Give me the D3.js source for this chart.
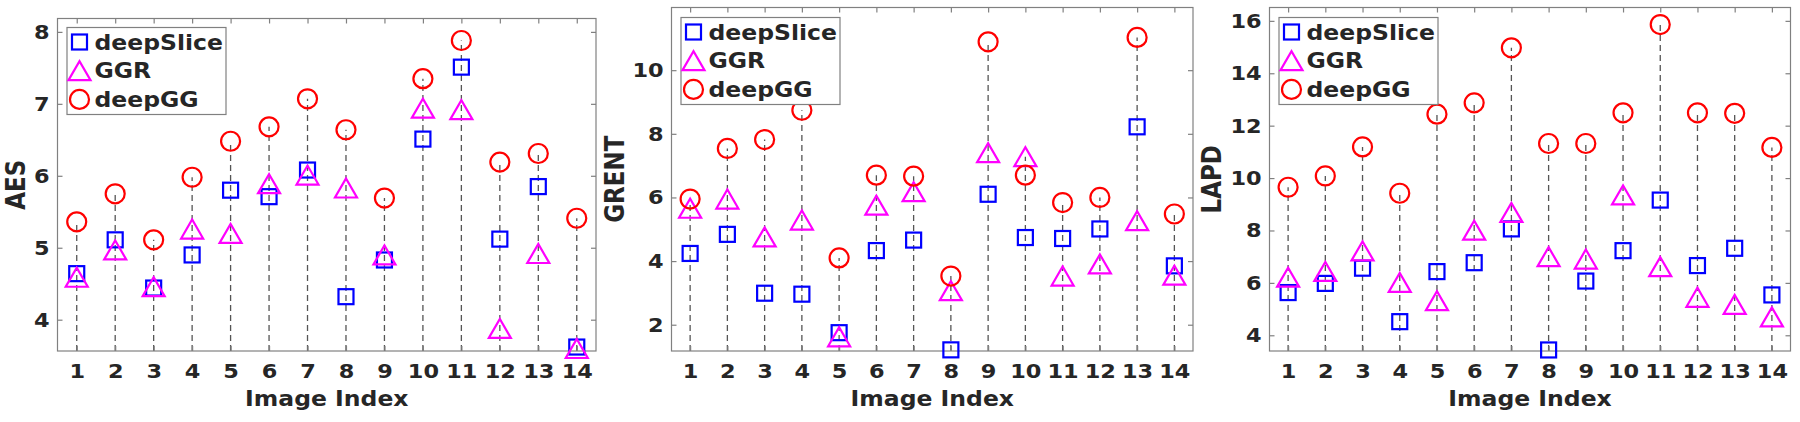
<!DOCTYPE html>
<html>
<head>
<meta charset="utf-8">
<script src="https://cdn.jsdelivr.net/npm/d3@7"></script>
<style>
  body { margin: 0; background: #fff; }
  svg text { font-family: "DejaVu Sans", sans-serif; font-weight: bold; fill: #262626; }
</style>
</head>
<body>
<div id="chart"></div>
<script>
// image indices shared by the three panels
const imageIndex = [1, 2, 3, 4, 5, 6, 7, 8, 9, 10, 11, 12, 13, 14];
const seriesNames = ["deepSlice", "GGR", "deepGG"];

// AES panel
const aesDeepSlice = [4.64, 5.11, 4.44, 4.90, 5.80, 5.71, 6.08, 4.32, 4.83, 6.51, 7.51, 5.12, 5.85, 3.62];
const aesGGR       = [4.59, 4.97, 4.46, 5.26, 5.20, 5.89, 6.01, 5.83, 4.90, 6.94, 6.92, 3.88, 4.92, 3.60];
const aesDeepGG    = [5.36, 5.75, 5.11, 5.98, 6.48, 6.68, 7.07, 6.64, 5.69, 7.35, 7.88, 6.19, 6.31, 5.41];
const aesTicks = [4, 5, 6, 7, 8];

// GRENT panel
const grentDeepSlice = [4.24, 4.84, 2.99, 2.96, 1.75, 4.33, 4.66, 1.21, 6.10, 4.74, 4.71, 5.01, 8.22, 3.85];
const grentGGR       = [5.66, 5.95, 4.76, 5.29, 1.62, 5.76, 6.18, 3.07, 7.41, 7.28, 3.53, 3.91, 5.27, 3.56];
const grentDeepGG    = [5.95, 7.54, 7.82, 8.74, 4.10, 6.70, 6.67, 3.53, 10.89, 6.70, 5.84, 6.00, 11.03, 5.48];
const grentTicks = [2, 4, 6, 8, 10];

// LAPD panel
const lapdDeepSlice = [5.63, 5.98, 6.56, 4.52, 6.43, 6.77, 8.06, 3.44, 6.07, 7.23, 9.16, 6.66, 7.32, 5.54];
const lapdGGR       = [6.22, 6.44, 7.22, 6.02, 5.32, 8.01, 8.69, 7.00, 6.91, 9.36, 6.62, 5.45, 5.18, 4.70];
const lapdDeepGG    = [9.65, 10.08, 11.19, 9.42, 12.44, 12.87, 14.97, 11.32, 11.32, 12.49, 15.86, 12.49, 12.47, 11.17];
const lapdTicks = [4, 6, 8, 10, 12, 14, 16];

const width = 1800, height = 422;
const svg = d3.select("#chart").append("svg")
  .attr("width", width)
  .attr("height", height);

const colors = ["#0000ff", "#ff00ff", "#ff0000"];
const axisColor = "#808080";
const stretch = 1.12; // the original figure's text is a bit wide

// one marker shape per series
function drawMarker(g, kind, x, y) {
  if (kind === 0) {
    g.append("rect")
      .attr("x", x - 7.5).attr("y", y - 7.5)
      .attr("width", 15).attr("height", 15)
      .attr("fill", "none").attr("stroke", colors[0]).attr("stroke-width", 2.2);
  } else if (kind === 1) {
    g.append("path")
      .attr("d", `M${x - 11},${y + 9.5} L${x + 11},${y + 9.5} L${x},${y - 9.5} Z`)
      .attr("fill", "none").attr("stroke", colors[1]).attr("stroke-width", 2.2);
  } else {
    g.append("circle")
      .attr("cx", x).attr("cy", y).attr("r", 9.5)
      .attr("fill", "none").attr("stroke", colors[2]).attr("stroke-width", 2.2);
  }
}

function drawPanel(p) {
  const x = d3.scaleLinear().domain([0.5, 14.5]).range([p.left, p.right]);
  const y = d3.scaleLinear().domain(p.yDomain).range([p.bottom, p.top]);
  const g = svg.append("g");

  // dashed stems up to the highest value at each index
  imageIndex.forEach((idx, i) => {
    const top = d3.max(p.series, s => s[i]);
    g.append("line")
      .attr("x1", x(idx)).attr("x2", x(idx))
      .attr("y1", p.bottom).attr("y2", y(top))
      .attr("stroke", "#555").attr("stroke-width", 1.3)
      .attr("stroke-dasharray", "6,4");
  });

  // axes box
  g.append("rect")
    .attr("x", p.left).attr("y", p.top)
    .attr("width", p.right - p.left).attr("height", p.bottom - p.top)
    .attr("fill", "none").attr("stroke", axisColor).attr("stroke-width", 1.2);

  // inward ticks on all four sides
  const fmt = d3.format("d");
  const xBottom = d3.axisBottom(x).tickValues(imageIndex).tickFormat(fmt).tickSizeInner(-5).tickSizeOuter(0).tickPadding(13);
  const xTop = d3.axisTop(x).tickValues(imageIndex).tickSizeInner(-5).tickSizeOuter(0).tickFormat("");
  const yLeft = d3.axisLeft(y).tickValues(p.ticks).tickFormat(fmt).tickSizeInner(-5).tickSizeOuter(0).tickPadding(7);
  const yRight = d3.axisRight(y).tickValues(p.ticks).tickSizeInner(-5).tickSizeOuter(0).tickFormat("");

  const axes = [
    [xBottom, `translate(0,${p.bottom})`],
    [xTop, `translate(0,${p.top})`],
    [yLeft, `translate(${p.left},0)`],
    [yRight, `translate(${p.right},0)`]
  ];
  axes.forEach(([ax, tr]) => {
    const a = g.append("g").attr("transform", tr).call(ax);
    a.select(".domain").remove();
    a.selectAll(".tick line").attr("stroke", axisColor).attr("stroke-width", 1.2);
    a.selectAll(".tick text")
      .attr("font-size", 20).attr("fill", "#262626")
      .attr("transform", `scale(${stretch},1)`);
  });

  // markers, in series order so later ones sit on top
  p.series.forEach((vals, k) => {
    vals.forEach((v, i) => drawMarker(g, k, x(imageIndex[i]), y(v)));
  });

  // axis titles
  g.append("text")
    .attr("transform", `translate(${(p.left + p.right) / 2},406) scale(${stretch},1)`)
    .attr("text-anchor", "middle").attr("font-size", 21)
    .text("Image Index");
  g.append("text")
    .attr("transform", `translate(${p.labelX},${(p.top + p.bottom) / 2}) rotate(-90) scale(1,${stretch})`)
    .attr("text-anchor", "middle").attr("dominant-baseline", "central")
    .attr("font-size", 23)
    .text(p.label);

  // legend
  const lx = p.left + 9.5, ly = p.top + p.legendTop;
  g.append("rect")
    .attr("x", lx).attr("y", ly).attr("width", 159).attr("height", 87)
    .attr("fill", "#fff").attr("stroke", axisColor).attr("stroke-width", 1.2);
  seriesNames.forEach((name, k) => {
    const cy = ly + 14.5 + k * 28.7;
    drawMarker(g, k, lx + 12.5, cy);
    g.append("text")
      .attr("transform", `translate(${lx + 27.5},${cy}) scale(${stretch},1)`)
      .attr("dominant-baseline", "central")
      .attr("font-size", 21)
      .text(name);
  });
}

drawPanel({
  left: 57.5, right: 596, top: 18.5, bottom: 351,
  yDomain: [3.565, 8.186], ticks: aesTicks, label: "AES", labelX: 16,
  legendTop: 9, series: [aesDeepSlice, aesGGR, aesDeepGG]
});
drawPanel({
  left: 671.5, right: 1193, top: 7.5, bottom: 351,
  yDomain: [1.174, 11.97], ticks: grentTicks, label: "GRENT", labelX: 615,
  legendTop: 10, series: [grentDeepSlice, grentGGR, grentDeepGG]
});
drawPanel({
  left: 1269.5, right: 1790.5, top: 7.5, bottom: 351,
  yDomain: [3.40, 16.51], ticks: lapdTicks, label: "LAPD", labelX: 1212,
  legendTop: 10, series: [lapdDeepSlice, lapdGGR, lapdDeepGG]
});
</script>
</body>
</html>
